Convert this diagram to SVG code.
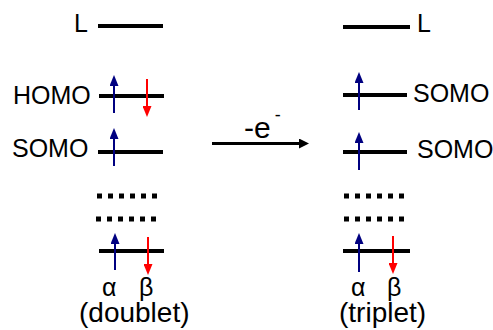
<svg xmlns="http://www.w3.org/2000/svg" width="493" height="330" viewBox="0 0 493 330">
<style>
text{font-family:"Liberation Sans",Arial,sans-serif;fill:#000}
.lbl{font-size:25px}
.spin{font-size:25px}
.mult{font-size:28px}
.rxl{font-size:30px}
.lvl{stroke:#000;stroke-width:4;fill:none}
.dots{stroke:#000;stroke-width:5;stroke-dasharray:5 6;fill:none}
.up{stroke:#000080;stroke-width:2;fill:none;marker-end:url(#hb)}
.dn{stroke:#ff0000;stroke-width:2;fill:none;marker-end:url(#hr)}
.rx{stroke:#000;stroke-width:3;fill:none;marker-end:url(#hk)}
</style>
<defs>
<marker id="hb" viewBox="0 0 11 9" refX="2" refY="4.5" markerWidth="11" markerHeight="9" markerUnits="userSpaceOnUse" orient="auto"><path d="M0,0 L11,4.5 L0,9 z" fill="#000080"/></marker>
<marker id="hr" viewBox="0 0 11 9" refX="2" refY="4.5" markerWidth="11" markerHeight="9" markerUnits="userSpaceOnUse" orient="auto"><path d="M0,0 L11,4.5 L0,9 z" fill="#ff0000"/></marker>
<marker id="hk" viewBox="0 0 10 10" refX="1" refY="5" markerWidth="10" markerHeight="10" markerUnits="userSpaceOnUse" orient="auto"><path d="M0,0 L10,5 L0,10 z" fill="#000"/></marker>
</defs>
<g id="left-L"><line class="lvl" x1="98" y1="26" x2="163" y2="26"/><text class="lbl" x="74" y="32">L</text></g>
<g id="left-HOMO"><line class="lvl" x1="99" y1="96" x2="164" y2="96"/><text class="lbl" x="13" y="104">HOMO</text></g>
<g id="left-SOMO"><line class="lvl" x1="98" y1="152" x2="163" y2="152"/><text class="lbl" x="12" y="157">SOMO</text></g>
<g id="left-dots"><line class="dots" x1="97" y1="196" x2="157" y2="196"/><line class="dots" x1="96" y1="219" x2="156" y2="219"/></g>
<g id="left-core"><line class="lvl" x1="99" y1="251" x2="164" y2="251"/></g>
<g id="left-labels"><text class="spin" x="102" y="296">α</text><text class="spin" x="139" y="296">β</text><text class="mult" x="79" y="322">(doublet)</text></g>
<g id="right-L"><line class="lvl" x1="343" y1="27" x2="410" y2="27"/><text class="lbl" x="417" y="32">L</text></g>
<g id="right-SOMO1"><line class="lvl" x1="343" y1="95" x2="407" y2="95"/><text class="lbl" x="413" y="102">SOMO</text></g>
<g id="right-SOMO2"><line class="lvl" x1="343" y1="152" x2="407" y2="152"/><text class="lbl" x="417" y="158">SOMO</text></g>
<g id="right-dots"><line class="dots" x1="344" y1="196" x2="404" y2="196"/><line class="dots" x1="344" y1="219" x2="404" y2="219"/></g>
<g id="right-core"><line class="lvl" x1="343" y1="251" x2="410" y2="251"/></g>
<g id="right-labels"><text class="spin" x="351" y="296">α</text><text class="spin" x="387" y="296">β</text><text class="mult" x="339" y="322">(triplet)</text></g>
<g id="connectors">
<line class="up" x1="114" y1="113" x2="114" y2="84"/>
<line class="dn" x1="147" y1="79" x2="147" y2="108"/>
<line class="up" x1="114" y1="166" x2="114" y2="137"/>
<line class="up" x1="115" y1="270" x2="115" y2="242"/>
<line class="dn" x1="148" y1="237" x2="148" y2="266"/>
<line class="up" x1="359" y1="110" x2="359" y2="81"/>
<line class="up" x1="359" y1="170" x2="359" y2="141"/>
<line class="up" x1="359" y1="272" x2="359" y2="242"/>
<line class="dn" x1="393" y1="236" x2="393" y2="265"/>
<line class="rx" x1="212" y1="143.5" x2="300" y2="143.5"/>
<text class="rxl" x="244" y="138">-e<tspan font-size="18" dx="4" dy="-17">-</tspan></text>
</g>
</svg>
